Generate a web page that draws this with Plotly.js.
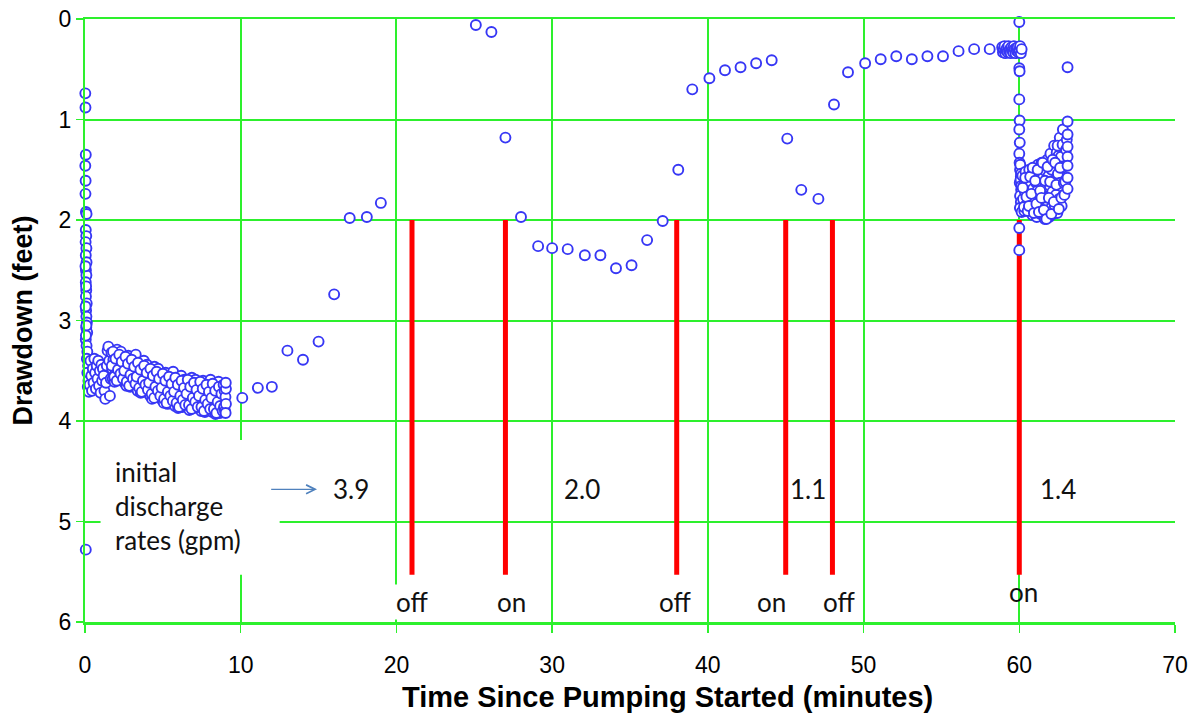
<!DOCTYPE html>
<html><head><meta charset="utf-8">
<script src="https://cdn.plot.ly/plotly-3.0.1.min.js"></script>
<style>html,body{margin:0;padding:0;background:#fff}#chart{width:1193px;height:717px}</style>
</head><body><div id="chart"></div>
<script>
// ---- data (minutes, feet of drawdown) ----
const startX = [0.02,0.03,0.05,0.02,0.04,0.03,0.06,0.10,0.05,0.08,0.04,0.09,0.05,0.10,0.06,0.09,0.05,0.08,0.06,0.11,0.07,0.09,0.12,0.08,0.14,0.05,0.10,0.15,0.12,0.20,0.15,0.22,0.18,0.25,0.30,0.05,0.03,0.07,0.04,0.09,0.06];
const startY = [0.74,0.88,1.35,1.46,1.61,1.74,1.92,1.94,2.10,2.16,2.22,2.28,2.35,2.42,2.50,2.55,2.62,2.70,2.76,2.83,2.90,2.96,3.02,3.07,3.12,3.19,3.25,3.31,3.38,3.45,3.52,3.60,3.66,3.71,3.64,5.28,2.46,2.66,2.86,3.05,3.15];

const earlyX = [0.35,0.40,0.45,0.50,0.55,0.60,0.65,0.70,0.75,0.80,0.85,0.90,0.95,1.00,1.05,1.10,1.15,1.20,1.25,1.30,1.35,1.40,1.45,1.50,1.55,1.60,1.65];
const earlyY = [3.40,3.55,3.70,3.48,3.62,3.38,3.52,3.68,3.45,3.58,3.40,3.65,3.50,3.72,3.44,3.60,3.48,3.55,3.70,3.78,3.62,3.45,3.30,3.26,3.40,3.75,3.58];

const bandX = [
1.70,1.74,1.78,1.82,1.86,1.90,1.94,1.98,2.02,2.06,2.10,2.14,2.18,2.22,2.26,2.30,2.34,2.38,2.42,2.46,
2.50,2.54,2.58,2.62,2.66,2.70,2.74,2.78,2.82,2.86,2.90,2.94,2.98,3.02,3.06,3.10,3.14,3.18,3.22,3.26,
3.30,3.34,3.38,3.42,3.46,3.50,3.54,3.58,3.62,3.66,3.70,3.74,3.78,3.82,3.86,3.90,3.94,3.98,4.02,4.06,
4.10,4.14,4.18,4.22,4.26,4.30,4.34,4.38,4.42,4.46,4.50,4.54,4.58,4.62,4.66,4.70,4.74,4.78,4.82,4.86,
4.90,4.94,4.98,5.02,5.06,5.10,5.14,5.18,5.22,5.26,5.30,5.34,5.38,5.42,5.46,5.50,5.54,5.58,5.62,5.66,
5.70,5.74,5.78,5.82,5.86,5.90,5.94,5.98,6.02,6.06,6.10,6.14,6.18,6.22,6.26,6.30,6.34,6.38,6.42,6.46,
6.50,6.54,6.58,6.62,6.66,6.70,6.74,6.78,6.82,6.86,6.90,6.94,6.98,7.02,7.06,7.10,7.14,7.18,7.22,7.26,
7.30,7.34,7.38,7.42,7.46,7.50,7.54,7.58,7.62,7.66,7.70,7.74,7.78,7.82,7.86,7.90,7.94,7.98,8.02,8.06,
8.10,8.14,8.18,8.22,8.26,8.30,8.34,8.38,8.42,8.46,8.50,8.54,8.58,8.62,8.66,8.70,8.74,8.78,8.82,8.86];
const bandY = [
3.32,3.48,3.58,3.39,3.45,3.61,3.35,3.51,3.42,3.29,3.55,3.45,3.59,3.37,3.50,3.31,3.43,3.56,3.40,3.53,
3.46,3.62,3.39,3.54,3.65,3.43,3.51,3.35,3.59,3.48,3.66,3.41,3.57,3.52,3.38,3.63,3.45,3.60,3.49,3.34,
3.62,3.46,3.70,3.55,3.42,3.65,3.51,3.72,3.59,3.48,3.67,3.53,3.40,3.61,3.71,3.50,3.57,3.44,3.68,3.56,
3.49,3.65,3.75,3.56,3.62,3.78,3.52,3.68,3.59,3.46,3.72,3.62,3.76,3.54,3.67,3.48,3.60,3.73,3.57,3.70,
3.63,3.79,3.56,3.71,3.82,3.60,3.68,3.52,3.76,3.65,3.83,3.58,3.74,3.69,3.55,3.80,3.62,3.77,3.66,3.51,
3.77,3.61,3.85,3.70,3.57,3.80,3.66,3.87,3.74,3.63,3.82,3.68,3.55,3.76,3.86,3.65,3.72,3.59,3.83,3.71,
3.60,3.76,3.86,3.67,3.73,3.89,3.63,3.79,3.70,3.57,3.83,3.73,3.87,3.65,3.78,3.59,3.71,3.84,3.68,3.81,
3.71,3.87,3.64,3.79,3.90,3.68,3.76,3.60,3.84,3.73,3.91,3.66,3.82,3.77,3.63,3.88,3.70,3.85,3.74,3.59,
3.83,3.67,3.91,3.76,3.63,3.86,3.72,3.93,3.80,3.69,3.88,3.74,3.61,3.82,3.92,3.71,3.78,3.65,3.89,3.77];

const band2X = [
1.72,1.80,1.88,1.96,2.04,2.12,2.20,2.28,2.36,2.44,
2.52,2.60,2.68,2.76,2.84,2.92,3.00,3.08,3.16,3.24,
3.32,3.40,3.48,3.56,3.64,3.72,3.80,3.88,3.96,4.04,
4.12,4.20,4.28,4.36,4.44,4.52,4.60,4.68,4.76,4.84,
4.92,5.00,5.08,5.16,5.24,5.32,5.40,5.48,5.56,5.64,
5.72,5.80,5.88,5.96,6.04,6.12,6.20,6.28,6.36,6.44,
6.52,6.60,6.68,6.76,6.84,6.92,7.00,7.08,7.16,7.24,
7.32,7.40,7.48,7.56,7.64,7.72,7.80,7.88,7.96,8.04,
8.12,8.20,8.28,8.36,8.44,8.52,8.60,8.68,8.76,8.84];
const band2Y = [
3.45,3.31,3.56,3.38,3.60,3.49,3.34,3.53,3.41,3.58,
3.50,3.36,3.61,3.43,3.65,3.54,3.39,3.58,3.46,3.63,
3.56,3.42,3.67,3.49,3.71,3.60,3.45,3.64,3.52,3.69,
3.62,3.48,3.73,3.55,3.77,3.66,3.51,3.70,3.58,3.75,
3.67,3.53,3.78,3.60,3.82,3.71,3.56,3.75,3.63,3.80,
3.71,3.57,3.82,3.64,3.86,3.75,3.60,3.79,3.67,3.84,
3.73,3.59,3.84,3.66,3.88,3.77,3.62,3.81,3.69,3.86,
3.75,3.61,3.86,3.68,3.90,3.79,3.64,3.83,3.71,3.88,
3.77,3.63,3.88,3.70,3.92,3.81,3.66,3.85,3.73,3.90];

const endX = [8.90,8.93,8.96,8.99,9.02,9.05,9.05,9.03,9.04];
const endY = [3.64,3.86,3.70,3.90,3.76,3.83,3.68,3.92,3.62];

const recoveryX = [10.1,11.1,12.0,13.0,14.0,15.0,16.0,17.0,18.1,19.0,25.1,26.1,27.0,28.0,29.1,30.0,31.0,32.1,33.1,34.1,35.1,36.1,37.1,38.1,39.0,40.1,41.1,42.1,43.1,44.1,45.1,46.0,47.1,48.1,49.0,50.1,51.1,52.1,53.1,54.1,55.1,56.1,57.1,58.1];
const recoveryY = [3.77,3.67,3.66,3.30,3.39,3.21,2.74,1.98,1.97,1.83,0.06,0.13,1.18,1.97,2.26,2.28,2.29,2.35,2.35,2.48,2.45,2.20,2.01,1.50,0.70,0.59,0.51,0.48,0.44,0.41,1.19,1.70,1.79,0.85,0.53,0.44,0.40,0.37,0.40,0.37,0.37,0.32,0.30,0.30];

const clusterX = [58.90,58.95,59.00,59.05,59.10,59.15,59.20,59.25,59.30,59.35,59.40,59.45,59.50,59.55,59.60,59.65,59.70,59.75,59.80,59.85,59.90,59.95,60.00,60.05,60.10,60.15];
const clusterY = [0.28,0.33,0.30,0.27,0.34,0.31,0.29,0.33,0.27,0.32,0.30,0.34,0.28,0.31,0.33,0.27,0.30,0.34,0.29,0.32,0.28,0.33,0.31,0.27,0.34,0.30];

const restartX = [60.00,60.00,60.02,60.00,60.02,60.00,60.03,60.00,60.02,60.05,60.10,60.03,60.12,60.05,60.10,60.04,60.15,60.08,60.13,60.06,60.11,60.00,60.00];
const restartY = [0.03,0.49,0.52,0.80,1.01,1.10,1.23,1.34,1.43,1.50,1.57,1.63,1.70,1.76,1.82,1.88,1.92,1.60,1.66,1.45,1.54,2.08,2.30];

const lastBandX = [
60.20,60.24,60.28,60.32,60.36,60.40,60.44,60.48,60.52,60.56,
60.60,60.64,60.68,60.72,60.76,60.80,60.84,60.88,60.92,60.96,
61.00,61.04,61.08,61.12,61.16,61.20,61.24,61.28,61.32,61.36,
61.40,61.44,61.48,61.52,61.56,61.60,61.64,61.68,61.72,61.76,
61.80,61.84,61.88,61.92,61.96,62.00,62.04,62.08,62.12,62.16,
62.20,62.24,62.28,62.32,62.36,62.40,62.44,62.48,62.52,62.56,
62.60,62.64,62.68,62.72,62.76,62.80,62.84];
const lastBandY = [
1.56,1.79,1.66,1.91,1.72,1.52,1.85,1.62,1.75,1.89,
1.74,1.50,1.90,1.62,1.83,1.55,1.95,1.69,1.57,1.86,
1.50,1.81,1.63,1.97,1.71,1.45,1.89,1.58,1.76,1.94,
1.72,1.43,1.93,1.58,1.84,1.49,1.99,1.67,1.52,1.87,
1.40,1.78,1.56,1.97,1.66,1.34,1.88,1.50,1.72,1.94,
1.61,1.26,1.86,1.43,1.75,1.33,1.93,1.54,1.36,1.79,
1.18,1.63,1.37,1.86,1.48,1.10,1.75];

const lastBand2X = [60.22,60.30,60.38,60.46,60.54, 60.62,60.70,60.78,60.86,60.94, 61.02,61.10,61.18,61.26,61.34, 61.42,61.50,61.58,61.66,61.74, 61.82,61.90,61.98,62.06,62.14, 62.22,62.30,62.38,62.46,62.54, 62.62,62.70,62.78,62.86];
const lastBand2Y = [1.68,1.87,1.58,1.77,1.91, 1.86,1.57,1.74,1.48,1.93, 1.61,1.84,1.50,1.92,1.71, 1.78,1.43,1.90,1.61,1.99, 1.47,1.78,1.62,1.94,1.40, 1.82,1.43,1.65,1.26,1.89, 1.48,1.78,1.25,1.63];

const lastEndX = [62.90,62.95,63.00,63.05,63.10,63.10,63.10,63.10,63.10,63.10,63.10,63.10];
const lastEndY = [1.75,1.62,1.30,1.20,1.02,1.15,1.27,1.37,1.46,1.58,1.69,0.48];

// pump switching events
const switchTimes = [21, 27, 38, 45, 48, 60];
const switchLabels = ['off', 'on', 'off', 'on', 'off', 'on'];
const switchTop = 2.0;
const switchBottom = 5.53;

// initial discharge rates (gpm)
const rateLabels = ['3.9', '2.0', '1.1', '1.4'];

// ---- build traces ----
const green = 'rgb(45,240,45)';
const blue = 'rgb(55,55,245)';
const txtFont = 'Lato, "Open Sans", sans-serif';
const arial = '"Liberation Sans", Arial, sans-serif';

const lineX = [], lineY = [];
switchTimes.forEach(t => { lineX.push(t, t, null); lineY.push(switchTop, switchBottom, null); });

const markerStyle = {symbol: 'circle', size: 10, color: '#ffffff', line: {color: blue, width: 1.9}};
const series = [[startX,startY],[earlyX,earlyY],[bandX,bandY],[band2X,band2Y],[endX,endY],[recoveryX,recoveryY],[clusterX,clusterY],[restartX,restartY],[lastBandX,lastBandY],[lastBand2X,lastBand2Y],[lastEndX,lastEndY]];

const traces = [{
  x: lineX, y: lineY, mode: 'lines', type: 'scatter',
  line: {color: 'rgb(255,0,0)', width: 5}, hoverinfo: 'skip', cliponaxis: false
}];
series.forEach(s => traces.push({
  x: s[0], y: s[1], mode: 'markers', type: 'scatter', marker: markerStyle, cliponaxis: false, hoverinfo: 'skip'
}));

const rateX = [17.1, 31.9, 46.4, 62.5];
const labelX = [21.0, 27.4, 37.9, 44.1, 48.4, 60.3];
const labelY = [5.80, 5.80, 5.80, 5.80, 5.80, 5.70];

const annotations = [];
rateLabels.forEach((t, i) => annotations.push({
  x: rateX[i], y: 4.68, xref: 'x', yref: 'y', text: t, showarrow: false,
  font: {family: txtFont, size: 26, color: '#111'}
}));
switchLabels.forEach((t, i) => annotations.push({
  x: labelX[i], y: labelY[i], xref: 'x', yref: 'y', text: t, showarrow: false,
  bgcolor: i < 5 ? '#ffffff' : 'rgba(0,0,0,0)',
  font: {family: txtFont, size: 26, color: '#111'}
}));
annotations.push({
  x: 1.8, y: 4.85, xref: 'x', yref: 'y', xanchor: 'left', align: 'left',
  text: 'initial<br>discharge<br>rates (gpm)', showarrow: false,
  font: {family: txtFont, size: 26, color: '#111'}
});
annotations.push({
  x: 14.9, y: 4.68, ax: 11.86, ay: 4.68, xref: 'x', yref: 'y', axref: 'x', ayref: 'y',
  text: '', showarrow: true, arrowhead: 5, arrowsize: 1.6, arrowwidth: 1.1, arrowcolor: '#4f81bd'
});
// x axis title (placed as in the reference, slightly right of centre)
annotations.push({
  x: 0.534, y: -0.124, xref: 'paper', yref: 'paper', xanchor: 'center', yanchor: 'middle',
  text: '<b>Time Since Pumping Started (minutes)</b>', showarrow: false,
  font: {family: arial, size: 29, color: '#000'}
});

const axisFont = {family: arial, size: 23, color: '#000'};
const layout = {
  width: 1193, height: 717,
  margin: {l: 85, r: 18, t: 19, b: 95, pad: 0},
  paper_bgcolor: '#fff', plot_bgcolor: '#fff',
  showlegend: false,
  xaxis: {
    range: [0, 70], tick0: 0, dtick: 10, showgrid: true, gridcolor: green, gridwidth: 2,
    zeroline: false, showline: true, linecolor: green, linewidth: 2.5, mirror: true,
    ticks: 'outside', ticklen: 8, tickcolor: green, tickwidth: 1.5,
    tickfont: axisFont, ticklabelstandoff: 13
  },
  yaxis: {
    range: [6, 0], tick0: 0, dtick: 1, showgrid: true, gridcolor: green, gridwidth: 2,
    zeroline: false, showline: true, linecolor: green, linewidth: 2, mirror: false,
    ticks: 'outside', ticklen: 7, tickcolor: green, tickwidth: 1.5,
    tickfont: axisFont,
    title: {text: '<b>Drawdown (feet)</b>', font: {family: arial, size: 27, color: '#000'}, standoff: 18}
  },
  shapes: [{type: 'rect', xref: 'x', yref: 'y', x0: 1.0, x1: 12.5, y0: 4.19, y1: 5.53, fillcolor: '#ffffff', line: {width: 0}, layer: 'between'}],
  annotations: annotations
};

Plotly.newPlot('chart', traces, layout, {displayModeBar: false, staticPlot: true});
</script></body></html>
